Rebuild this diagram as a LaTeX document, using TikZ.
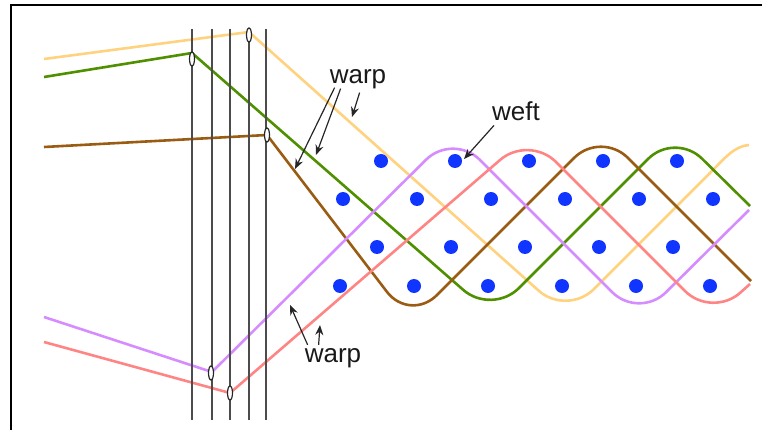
\documentclass[tikz,border=0pt]{standalone}
\usepackage{fontspec}
\setmainfont{Liberation Sans}
\definecolor{threadyellow}{HTML}{FFD27F}
\definecolor{threadgreen}{HTML}{4F9000}
\definecolor{threadbrown}{HTML}{9A5B12}
\definecolor{threadpurple}{HTML}{D58CFF}
\definecolor{threadpink}{HTML}{FF8585}
\definecolor{dotblue}{HTML}{1035FF}
\tikzset{
thread/.style={line width=2.6pt,line join=round},
weave/.style={rounded corners=38pt},
heddle/.style={draw=black!70,line width=1.6pt},
eyelet/.style={draw=black!85,fill=white,line width=1.2pt},
pointer/.style={draw=black!85,line width=1.2pt,-{Stealth[length=10pt,width=8pt]}},
lbl/.style={font=\fontsize{26}{28}\selectfont,inner sep=0pt,anchor=base,text=black!90}
}
\usetikzlibrary{arrows.meta}
\begin{document}
\begin{tikzpicture}[x=1pt,y=-1pt]
\useasboundingbox (0,0) rectangle (762,430);
\draw[line width=2pt] (11,430) -- (11,5) -- (762,5);
\draw[thread,threadyellow] (44,59) -- (249,32) [weave] -- (567,316) -- (710,173);
\draw[thread,threadyellow] (709,174) .. controls (724,159) and (734,146) .. (749,145);
\draw[thread,threadgreen] (44,77) -- (192,53) [weave] -- (492,315) -- (675,132) -- (750,206);
\draw[thread,threadbrown] (44,147) -- (267,135) [weave] -- (410,322) -- (601,131) -- (751,281);
\draw[thread,threadpurple] (44,317) -- (212,372) [weave] -- (453,133) -- (639,319) -- (749,210);
\draw[thread,threadpink] (44,342) -- (230,393) [weave] -- (529,135) -- (712,318) -- (750,284);
\foreach \x in {192,212,230,249,266}{
\draw[heddle] (\x,29) -- (\x,420);}
\foreach \x/\y in {249/35,192/59,267/135,211/373,230/393}{
\draw[eyelet] (\x,\y) ellipse [x radius=2.5,y radius=7];}
\foreach \yy/\xa/\n in {161/381/4,199/343/5,247/377/4,286/340/5}{
\foreach \i in {0,...,\n}{
\fill[dotblue] (\xa+\i*74,\yy) circle (7);}}
\node[lbl] (warpup) at (358,84) {warp};
\node[lbl] (weftlbl) at (516,121) {weft};
\node[lbl] (warpdown) at (333,362) {warp};
\coordinate (warpa) at (295,169);
\coordinate (warpb) at (316,155);
\coordinate (warpc) at (352,117);
\coordinate (weftdot) at (464,159);
\coordinate (warpd) at (290,305);
\coordinate (warpe) at (320,325);
\draw[pointer] ([xshift=5pt,yshift=2pt]warpup.south west) -- (warpa);
\draw[pointer] ([xshift=11pt,yshift=1pt]warpup.south west) -- (warpb);
\draw[pointer] ([xshift=30pt,yshift=-3pt]warpup.south west) -- (warpc);
\draw[pointer] ([xshift=2pt,yshift=-4pt]weftlbl.south west) -- (weftdot);
\draw[pointer] ([xshift=3pt,yshift=3pt]warpdown.north west) -- (warpd);
\draw[pointer] ([xshift=14pt,yshift=3pt]warpdown.north west) -- (warpe);
\end{tikzpicture}
\end{document}
